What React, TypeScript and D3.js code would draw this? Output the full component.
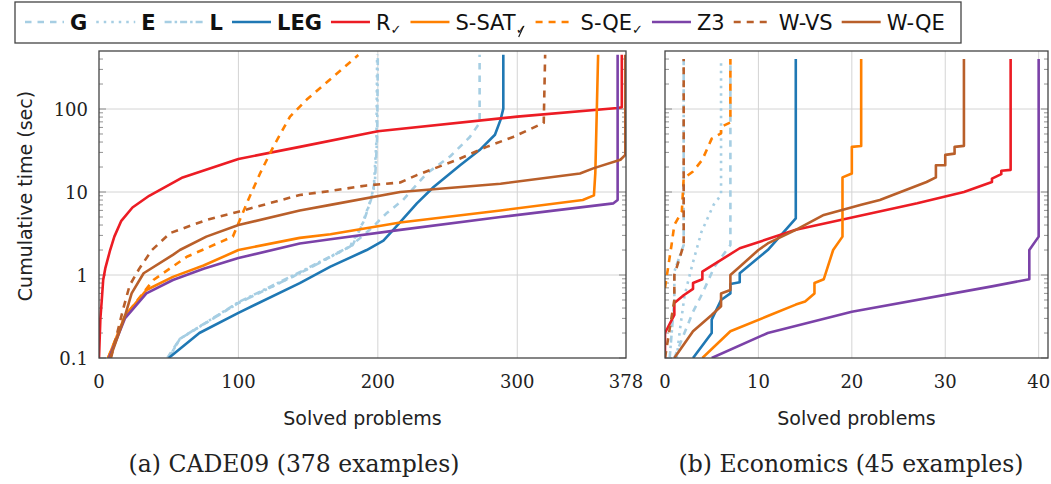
import React, { useEffect, useRef } from 'react';
import * as d3 from 'd3';

type Pt = [number, number];

// solver names in legend order
const solvers = ['G', 'E', 'L', 'LEG', 'R', 'S-SAT', 'S-QE', 'Z3', 'W-VS', 'W-QE'];

// x ticks of both panels
const cadeTicks = [0, 100, 200, 300, 378];
const econTicks = [0, 10, 20, 30, 40];
const yTicks = [0.1, 1, 10, 100];

// CADE09: [solved problems, cumulative time]
const cadeG: Pt[] = [[49, 0.1], [58, 0.17], [100, 0.46], [144, 1.05], [180, 2.2], [195, 3.6], [206, 5.5], [218, 8], [235, 16.7], [252, 27], [266, 46], [273, 68], [273, 450]];
const cadeE: Pt[] = [[50, 0.1], [58, 0.17], [100, 0.46], [144, 1.05], [180, 2.2], [189, 4.2], [194, 7.3], [197, 10.6], [199, 42], [199.5, 450]];
const cadeL: Pt[] = [[50, 0.1], [58, 0.17], [100, 0.47], [144, 1.08], [182, 2.3], [190, 4.5], [195, 8], [198, 14], [199.5, 45], [200, 450]];
const cadeLEG: Pt[] = [[50, 0.1], [72, 0.2], [100, 0.35], [144, 0.8], [166, 1.26], [192, 2.0], [204, 2.6], [213, 3.8], [228, 7.3], [240, 11.5], [259, 21], [273, 32], [284, 49], [288, 74], [290, 101], [290, 450]];
const cadeR: Pt[] = [[0, 0.1], [1, 0.3], [2, 0.5], [3, 0.87], [4.5, 1.2], [8, 2], [11, 2.9], [16, 4.5], [24, 6.5], [36, 9], [60, 15], [100, 25], [144, 35], [200, 54], [300, 81], [372, 103], [375, 105], [375, 450]];
const cadeSSAT: Pt[] = [[6.5, 0.1], [18.6, 0.32], [34, 0.66], [53, 0.95], [75, 1.3], [100, 2.0], [144, 2.8], [166, 3.1], [216, 4.3], [288, 6], [347, 8], [355, 9.1], [356, 17], [358, 450]];
const cadeSQE: Pt[] = [[6.5, 0.1], [18.6, 0.32], [39, 0.87], [63, 1.66], [96, 2.9], [101, 4.6], [107, 8], [115.5, 16.7], [125, 35], [137, 81], [149, 130], [168, 245], [186, 447]];
const cadeZ3: Pt[] = [[7.2, 0.1], [18.6, 0.3], [34, 0.6], [53, 0.87], [75, 1.19], [100, 1.6], [144, 2.4], [166, 2.7], [216, 3.5], [288, 5], [369, 7.3], [372, 8], [372, 450]];
const cadeWVS: Pt[] = [[8.6, 0.1], [17.5, 0.4], [22, 0.75], [29, 1.2], [38, 2.0], [51, 3.2], [77, 4.6], [100, 5.8], [144, 9.2], [166, 10.3], [192, 12], [216, 13], [228, 16], [257, 24.5], [278, 35], [297, 46], [319, 68], [320, 450]];
const cadeWQE: Pt[] = [[8, 0.1], [18.6, 0.32], [23.4, 0.6], [32, 1.05], [53, 1.75], [58, 2.0], [77, 2.9], [100, 4.0], [144, 6], [166, 7], [216, 10], [288, 12.6], [345, 16.7], [355, 19.4], [374, 24.5], [377.5, 28], [377.5, 450]];

// Economics
const econG: Pt[] = [[1, 0.1], [3, 0.36], [4, 0.6], [5.3, 1.26], [7, 2.3], [7, 400]];
const econE: Pt[] = [[1.25, 0.1], [1.6, 0.22], [2.1, 0.57], [2.9, 1.3], [3.9, 3.3], [5.2, 7], [6, 9.2], [6, 400]];
const econL: Pt[] = [[0.5, 0.1], [1, 0.5], [1, 1.1], [2, 2.3], [2, 400]];
const econLEG: Pt[] = [[3, 0.1], [5, 0.2], [5, 0.29], [6, 0.5], [7, 0.6], [7, 0.78], [8, 0.82], [8, 1.05], [11, 2.0], [14, 4.8], [14, 400]];
const econR: Pt[] = [[0, 0.1], [0, 0.2], [1, 0.33], [1, 0.46], [2, 0.57], [3, 0.68], [3, 0.8], [4, 0.89], [4, 1.1], [8, 2.1], [14, 3.5], [27, 7.3], [32, 10], [35, 13.2], [35, 14.5], [36, 16.4], [36, 18], [37, 18.5], [37, 400]];
const econSSAT: Pt[] = [[4, 0.1], [7, 0.21], [11, 0.32], [14, 0.44], [15, 0.48], [16, 0.6], [16, 0.8], [17, 0.89], [18, 2.0], [19, 2.9], [19, 15], [20, 16.7], [20, 35], [21, 35.8], [21, 400]];
const econSQE: Pt[] = [[0, 0.7], [0.7, 2.3], [1, 4], [1.8, 5.8], [2, 14.6], [3, 17.7], [4, 24.5], [5, 44], [6, 51], [6, 61], [7, 69], [7, 400]];
const econZ3: Pt[] = [[5, 0.1], [11, 0.2], [20, 0.36], [35, 0.73], [39, 0.89], [39, 2.0], [40, 2.9], [40, 400]];
const econWVS: Pt[] = [[0, 0.1], [1, 0.5], [1, 1.0], [2, 2.3], [2, 400]];
const econWQE: Pt[] = [[1, 0.1], [3, 0.21], [5, 0.33], [6, 0.42], [6, 0.6], [7, 0.66], [7, 1.0], [8, 1.26], [10, 2.0], [11, 2.4], [14, 3.5], [17, 5.3], [21, 7], [23, 8], [28, 13.2], [29, 15], [29, 21], [30, 21], [30, 28], [31, 29], [31, 35], [32, 36], [32, 400]];

const cadeSeries = [cadeG, cadeE, cadeL, cadeLEG, cadeR, cadeSSAT, cadeSQE, cadeZ3, cadeWVS, cadeWQE];
const econSeries = [econG, econE, econL, econLEG, econR, econSSAT, econSQE, econZ3, econWVS, econWQE];

interface Style { color: string; dash?: string; bold?: boolean; sub?: boolean; struck?: boolean }

const styles: Record<string, Style> = {
  G: { color: '#a6cee3', dash: '6.5,6', bold: true },
  E: { color: '#a6cee3', dash: '2.5,5', bold: true },
  L: { color: '#a6cee3', dash: '7,3,2.5,3', bold: true },
  LEG: { color: '#1f78b4', bold: true },
  R: { color: '#ec1c24', sub: true },
  'S-SAT': { color: '#ff8000', sub: true, struck: true },
  'S-QE': { color: '#ff8000', dash: '7,6', sub: true },
  Z3: { color: '#7b42a8' },
  'W-VS': { color: '#b95f2a', dash: '7,6' },
  'W-QE': { color: '#b95f2a' },
};

const serif = 'DejaVu Serif';
const sans = 'DejaVu Sans';

type Sel = d3.Selection<SVGSVGElement, unknown, null, undefined>;

function drawPanel(svg: Sel, id: string, x: d3.ScaleLinear<number, number>, y: d3.ScaleLogarithmic<number, number>,
  ticks: number[], series: Pt[][], yLabels: boolean) {
  const [x0, x1] = x.range();
  const [yb, yt] = y.range();
  const g = svg.append('g');

  svg.append('defs').append('clipPath').attr('id', id)
    .append('rect').attr('x', x0).attr('y', yt).attr('width', x1 - x0).attr('height', yb - yt);

  // grid
  const [dx0, dx1] = x.domain();
  g.selectAll('line.gx').data(ticks.filter((t) => t > dx0 && t < dx1)).join('line')
    .attr('x1', (d) => x(d)).attr('x2', (d) => x(d)).attr('y1', yt).attr('y2', yb)
    .attr('stroke', '#d4d4d4').attr('stroke-width', 1);
  g.selectAll('line.gy').data(yTicks.slice(1)).join('line')
    .attr('x1', x0).attr('x2', x1).attr('y1', (d) => y(d)).attr('y2', (d) => y(d))
    .attr('stroke', '#d4d4d4').attr('stroke-width', 1);

  // inward ticks on left and right
  const minor: number[] = [];
  yTicks.forEach((dec) => d3.range(2, 10).forEach((k) => { if (k * dec < y.domain()[1]) minor.push(k * dec); }));
  const tk = g.append('g').attr('stroke', '#777').attr('stroke-width', 0.8);
  [[x0, 1], [x1, -1]].forEach(([xe, s]) => {
    tk.selectAll(null).data(minor).join('line')
      .attr('x1', xe).attr('x2', xe + s * 4).attr('y1', (d) => y(d)).attr('y2', (d) => y(d));
    tk.selectAll(null).data(yTicks).join('line')
      .attr('x1', xe).attr('x2', xe + s * 7).attr('y1', (d) => y(d)).attr('y2', (d) => y(d));
  });

  // series
  const line = d3.line<Pt>().x((d) => x(d[0])).y((d) => y(d[1]));
  g.append('g').attr('clip-path', `url(#${id})`).selectAll('path').data(series).join('path')
    .attr('d', (d) => line(d))
    .attr('fill', 'none')
    .attr('stroke', (_, i) => styles[solvers[i]].color)
    .attr('stroke-width', 2.6)
    .attr('stroke-dasharray', (_, i) => styles[solvers[i]].dash ?? null)
    .attr('stroke-linejoin', 'round');

  // frame
  g.append('rect').attr('x', x0).attr('y', yt).attr('width', x1 - x0).attr('height', yb - yt)
    .attr('fill', 'none').attr('stroke', '#444').attr('stroke-width', 1.3);

  // tick labels
  g.selectAll('text.xt').data(ticks).join('text')
    .attr('x', (d) => x(d)).attr('y', 388).attr('text-anchor', 'middle')
    .attr('font-family', serif).attr('font-size', 18).attr('fill', '#222')
    .text((d) => String(d));
  if (yLabels) {
    g.selectAll('text.yt').data(yTicks).join('text')
      .attr('x', x0 - 11).attr('y', (d) => y(d) + 6.5).attr('text-anchor', 'end')
      .attr('font-family', serif).attr('font-size', 18).attr('fill', '#222')
      .text((d) => String(d));
  }

  g.append('text').attr('x', (x0 + x1) / 2).attr('y', 425).attr('text-anchor', 'middle')
    .attr('font-family', sans).attr('font-size', 19).attr('fill', '#222')
    .text('Solved problems');
}

const App: React.FC = () => {
  const svgRef = useRef<SVGSVGElement>(null);

  useEffect(() => {
    const svg = d3.select(svgRef.current!) as Sel;
    svg.selectAll('*').remove();

    const y = d3.scaleLog().domain([0.1, 500]).range([358, 51]);
    drawPanel(svg, 'clipA', d3.scaleLinear().domain([0, 378]).range([99, 626]), y, cadeTicks, cadeSeries, true);
    drawPanel(svg, 'clipB', d3.scaleLinear().domain([0, 41]).range([665, 1048]), y, econTicks, econSeries, false);

    svg.append('text').attr('transform', 'translate(32,196) rotate(-90)').attr('text-anchor', 'middle')
      .attr('font-family', sans).attr('font-size', 19).attr('fill', '#222')
      .text('Cumulative time (sec)');

    svg.append('text').attr('x', 294).attr('y', 472).attr('text-anchor', 'middle')
      .attr('font-family', serif).attr('font-size', 23.5).attr('fill', '#222')
      .text('(a) CADE09 (378 examples)');
    svg.append('text').attr('x', 851).attr('y', 472).attr('text-anchor', 'middle')
      .attr('font-family', serif).attr('font-size', 23.5).attr('fill', '#222')
      .text('(b) Economics (45 examples)');

    // legend
    const lg = svg.append('g');
    lg.append('rect').attr('x', 15).attr('y', 2).attr('width', 946).attr('height', 41)
      .attr('fill', 'white').attr('stroke', '#444').attr('stroke-width', 1.3);
    let cx = 25;
    solvers.forEach((name) => {
      const st = styles[name];
      lg.append('line').attr('x1', cx).attr('x2', cx + 39).attr('y1', 22).attr('y2', 22)
        .attr('stroke', st.color).attr('stroke-width', 2.6)
        .attr('stroke-dasharray', st.dash ?? null);
      const t = lg.append('text').attr('x', cx + 45).attr('y', 29.5)
        .attr('font-family', sans).attr('font-size', 21).attr('fill', '#111')
        .attr('font-weight', st.bold ? 'bold' : 'normal');
      t.append('tspan').text(name);
      if (st.sub) t.append('tspan').attr('font-size', 13).attr('dy', 4).text('\u2713');
      const node = t.node() as SVGTextElement;
      const w = node.getComputedTextLength();
      if (st.struck) {
        const sx = cx + 45 + node.getSubStringLength(0, name.length);
        lg.append('line').attr('x1', sx + 3).attr('x2', sx + 8).attr('y1', 37).attr('y2', 26)
          .attr('stroke', '#111').attr('stroke-width', 1.1);
      }
      cx += 45 + w + 9;
    });
  }, []);

  return <svg ref={svgRef} width={1051} height={484} style={{ position: 'absolute', left: 0, top: 0, background: 'white' }} />;
};

export default App;
